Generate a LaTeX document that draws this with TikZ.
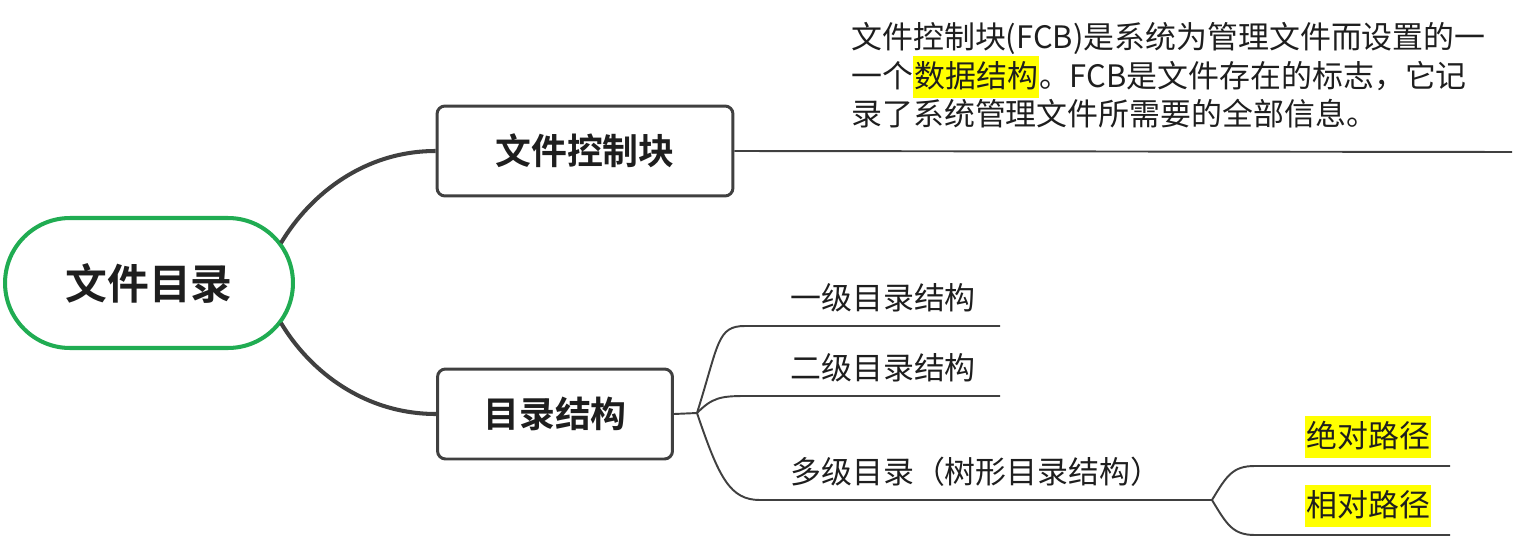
\documentclass[tikz,border=0pt]{standalone}
\usepackage{fontspec}
\setmainfont{Noto Sans CJK SC}[BoldFont={Noto Sans CJK SC Bold}]
\usetikzlibrary{positioning,calc}
\definecolor{ink}{RGB}{30,30,30}
\definecolor{linegray}{RGB}{64,64,64}
\definecolor{rootgreen}{RGB}{32,172,82}
\definecolor{hlyellow}{RGB}{255,255,0}
\newcommand{\hlt}[1]{{\setlength{\fboxsep}{0.6pt}\colorbox{hlyellow}{\rule[-0.32em]{0pt}{1.3em}#1}}}
\tikzset{
  root/.style={draw=rootgreen,line width=2.3pt,rounded corners=1.3cm,fill=white,minimum width=5.76cm,minimum height=2.6cm,font=\fontsize{23.8}{28}\selectfont\bfseries,text=ink},
  topic/.style={draw=linegray,line width=1.7pt,rounded corners=0.16cm,fill=white,minimum height=1.8cm,font=\fontsize{20.4}{24}\selectfont\bfseries,text=ink},
  mainlink/.style={line width=2.3pt,draw=linegray},
  sublink/.style={line width=1.1pt,draw=linegray},
  leaf/.style={font=\fontsize{17.6}{22}\selectfont,text=ink,inner sep=0pt},
  note/.style={leaf,align=left}
}
\begin{document}
\begin{tikzpicture}[x=0.02cm,y=-0.02cm]
  \useasboundingbox (0,0) rectangle (1525,551);

  % central topic and the two main branches
  \node[root] (root) at (149,283) {文件目录};
  \node[topic,minimum width=5.92cm] (fcb) at (585,151) {文件控制块};
  \node[topic,minimum width=4.7cm] (dirs) at (555,414) {目录结构};

  \draw[mainlink] ([shift={(-14,-40)}]root.east) .. controls +(30,-50) and +(-70,0) .. (fcb.west);
  \draw[mainlink] ([shift={(-14,40)}]root.east) .. controls +(30,50) and +(-70,0) .. (dirs.west);

  % FCB description
  \node[note,anchor=north west] (fcbnote) at (851,22) {文件控制块(FCB)是系统为管理文件而设置的一\\一个\hlt{数据结构}。FCB是文件存在的标志，它记\\录了系统管理文件所需要的全部信息。};
  \coordinate (fcbend) at (1512,152);
  \draw[sublink] (fcb.east) -- (fcbend);

  % directory structures
  \coordinate (fork) at (697,413);
  \coordinate (l1a) at (745,326);
  \coordinate (l1b) at (1000,326);
  \coordinate (l2a) at (745,396);
  \coordinate (l2b) at (1000,396);
  \coordinate (l3a) at (760,500);
  \coordinate (fork2) at (1212,500);
  \coordinate (p1a) at (1255,466);
  \coordinate (p1b) at (1450,466);
  \coordinate (p2a) at (1255,535);
  \coordinate (p2b) at (1450,535);

  \draw[sublink] (dirs.east) -- (fork);
  \draw[sublink] (fork) .. controls +(22,-70) and +(-28,0) .. (l1a) -- (l1b);
  \draw[sublink] (fork) .. controls +(15,-15) and +(-25,0) .. (l2a) -- (l2b);
  \draw[sublink] (fork) .. controls +(22,65) and +(-30,0) .. (l3a) -- (fork2);
  \draw[sublink] (fork2) .. controls +(15,-25) and +(-22,0) .. (p1a) -- (p1b);
  \draw[sublink] (fork2) .. controls +(15,25) and +(-22,0) .. (p2a) -- (p2b);

  \node[leaf,anchor=west] (lv1) at (790,298) {一级目录结构};
  \node[leaf,anchor=west] (lv2) at (790,368) {二级目录结构};
  \node[leaf,anchor=west] (lvm) at (790,472) {多级目录（树形目录结构）};
  \node[leaf,anchor=west] (abs) at (1305,437) {\hlt{绝对路径}};
  \node[leaf,anchor=west] (rel) at (1305,506) {\hlt{相对路径}};
\end{tikzpicture}
\end{document}
